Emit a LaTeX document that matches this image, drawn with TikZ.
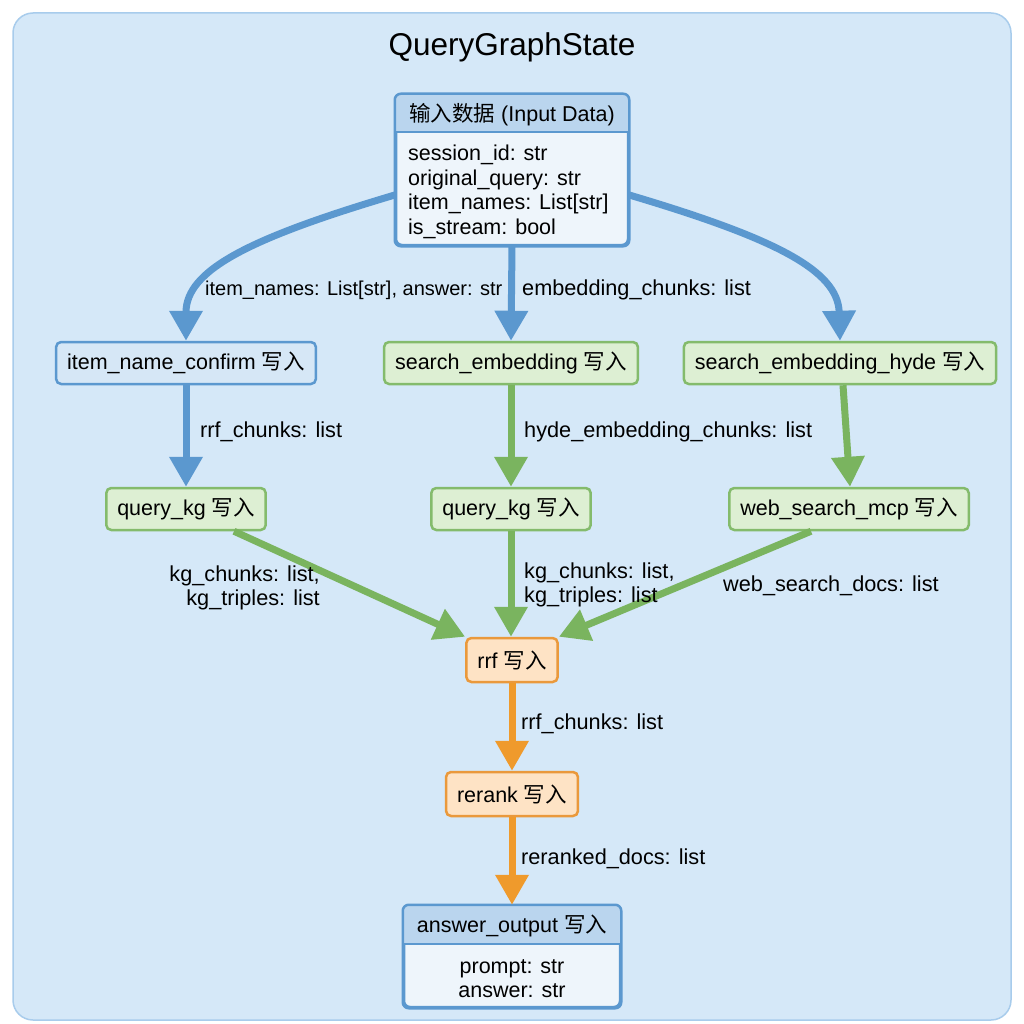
\documentclass[tikz,border=0pt]{standalone}
\usepackage{fontspec}
\setmainfont{Liberation Sans}
\newfontfamily\cjk{Noto Sans CJK SC}
\usetikzlibrary{arrows.meta}
\definecolor{bg}{HTML}{D5E8F8}
\definecolor{bgedge}{HTML}{A8CCEC}
\definecolor{bborder}{HTML}{5B98CF}
\definecolor{bfill}{HTML}{D6E7F6}
\definecolor{hdrfill}{HTML}{BAD5EE}
\definecolor{bodyfill}{HTML}{EEF5FB}
\definecolor{gborder}{HTML}{84BB6C}
\definecolor{gfill}{HTML}{DDEFD3}
\definecolor{garrow}{HTML}{7AB45F}
\definecolor{oborder}{HTML}{EA993C}
\definecolor{ofill}{HTML}{FEE3C5}
\definecolor{oarrow}{HTML}{EF9A2C}
\definecolor{barrow}{HTML}{5B98CF}
\begin{document}
\begin{tikzpicture}[x=1pt,y=-1pt,
  nodebox/.style={rounded corners=5pt, line width=2.5pt, minimum height=42pt, inner xsep=11pt, font=\fontsize{21.5}{24}\selectfont},
  bluebox/.style={nodebox, draw=bborder, fill=bfill},
  greenbox/.style={nodebox, draw=gborder, fill=gfill},
  orangebox/.style={nodebox, draw=oborder, fill=ofill},
  flow/.style={line width=7pt, -{Triangle[length=30pt,width=32pt]}},
  bflow/.style={flow, draw=barrow},
  gflow/.style={flow, draw=garrow},
  oflow/.style={flow, draw=oarrow},
  lbl/.style={font=\fontsize{21.7}{24.5}\selectfont, inner sep=0pt},
  txt/.style={font=\fontsize{21.5}{24.5}\selectfont, inner sep=0pt}
]
\useasboundingbox (0,0) rectangle (1024,1024);
\fill[white] (0,0) rectangle (1024,1024);
\draw[draw=bgedge, fill=bg, line width=1.5pt, rounded corners=20pt] (13,13) rectangle (1011,1020);

\node[font=\fontsize{31.5}{34}\selectfont] (title) at (512,47) {QueryGraphState};

% input box
\node[draw=bborder, fill=bodyfill, line width=2.5pt, rounded corners=6pt, minimum width=232pt, minimum height=150pt, inner sep=0pt] (in) at (512,170) {};
\begin{scope}
  \clip[rounded corners=6pt] (in.south west) rectangle (in.north east);
  \fill[hdrfill] (in.north west) rectangle ([yshift=-38pt]in.north east);
\end{scope}
\draw[bborder, line width=2pt] ([yshift=-38pt]in.north west) -- ([yshift=-38pt]in.north east);
\draw[bborder, line width=2.5pt, rounded corners=6pt] (in.south west) rectangle (in.north east);
\node[txt] (inh) at (512,115) {{\cjk 输入数据} (Input Data)};
\node[txt, align=left, anchor=west] (inb) at (408,192) {session\_id: str\\original\_query: str\\item\_names: List[str]\\is\_stream: bool};

% middle layer
\node[bluebox] (inc) at (186,363) {item\_name\_confirm {\cjk 写入}};
\node[greenbox] (se) at (511,363) {search\_embedding {\cjk 写入}};
\node[greenbox] (seh) at (840,363) {search\_embedding\_hyde {\cjk 写入}};

\node[greenbox] (kg1) at (186,509) {query\_kg {\cjk 写入}};
\node[greenbox] (kg2) at (511,509) {query\_kg {\cjk 写入}};
\node[greenbox] (web) at (849,509) {web\_search\_mcp {\cjk 写入}};

\node[orangebox, minimum height=44pt] (rrf) at (512,660) {rrf {\cjk 写入}};
\node[orangebox, minimum height=44pt] (rr) at (512,794) {rerank {\cjk 写入}};

% answer output box
\node[draw=bborder, fill=bodyfill, line width=2.5pt, rounded corners=6pt, minimum width=216pt, minimum height=101pt, inner sep=0pt] (ans) at (512,956.5) {};
\begin{scope}
  \clip[rounded corners=6pt] (ans.south west) rectangle (ans.north east);
  \fill[hdrfill] (ans.north west) rectangle ([yshift=-39pt]ans.north east);
\end{scope}
\draw[bborder, line width=2pt] ([yshift=-39pt]ans.north west) -- ([yshift=-39pt]ans.north east);
\draw[bborder, line width=2.5pt, rounded corners=6pt] (ans.south west) rectangle (ans.north east);
\node[txt] (ansh) at (512,926) {answer\_output {\cjk 写入}};
\node[txt, align=center] (ansb) at (512,978.5) {prompt: str\\answer: str};

% connectors
\draw[bflow] ([yshift=-25pt]in.west) .. controls (250,238) and (186,270) .. (inc.north);
\draw[bflow] (in.south) -- (se.north);
\draw[bflow] ([yshift=-25pt]in.east) .. controls (774,238) and (838,270) .. (seh.north);

\draw[bflow] (inc.south) -- (kg1.north);
\draw[gflow] (se.south) -- (kg2.north);
\draw[gflow] ([xshift=3pt]seh.south) -- ([xshift=1pt]web.north);

\draw[gflow] ([xshift=48pt]kg1.south) -- (rrf.north west);
\draw[gflow] (kg2.south) -- ([xshift=-1pt]rrf.north);
\draw[gflow] ([xshift=-38pt]web.south) -- (rrf.north east);

\draw[oflow] (rrf.south) -- (rr.north);
\draw[oflow] (rr.south) -- (ans.north);

% labels
\node[lbl, font=\fontsize{20}{24}\selectfont, anchor=west] (l1) at (205,290) {item\_names: List[str], answer: str};
\node[lbl, anchor=west] (l2) at (522,290) {embedding\_chunks: list};
\node[lbl, anchor=west] (l3) at (200,432) {rrf\_chunks: list};
\node[lbl, anchor=west] (l4) at (524,432) {hyde\_embedding\_chunks: list};
\node[lbl, anchor=east, align=right] (l5) at (320,588) {kg\_chunks: list,\\kg\_triples: list};
\node[lbl, anchor=west, align=left] (l6) at (524,585) {kg\_chunks: list,\\kg\_triples: list};
\node[lbl, anchor=west] (l7) at (723,586) {web\_search\_docs: list};
\node[lbl, anchor=west] (l8) at (521,724) {rrf\_chunks: list};
\node[lbl, anchor=west] (l9) at (521,859) {reranked\_docs: list};
\end{tikzpicture}
\end{document}
